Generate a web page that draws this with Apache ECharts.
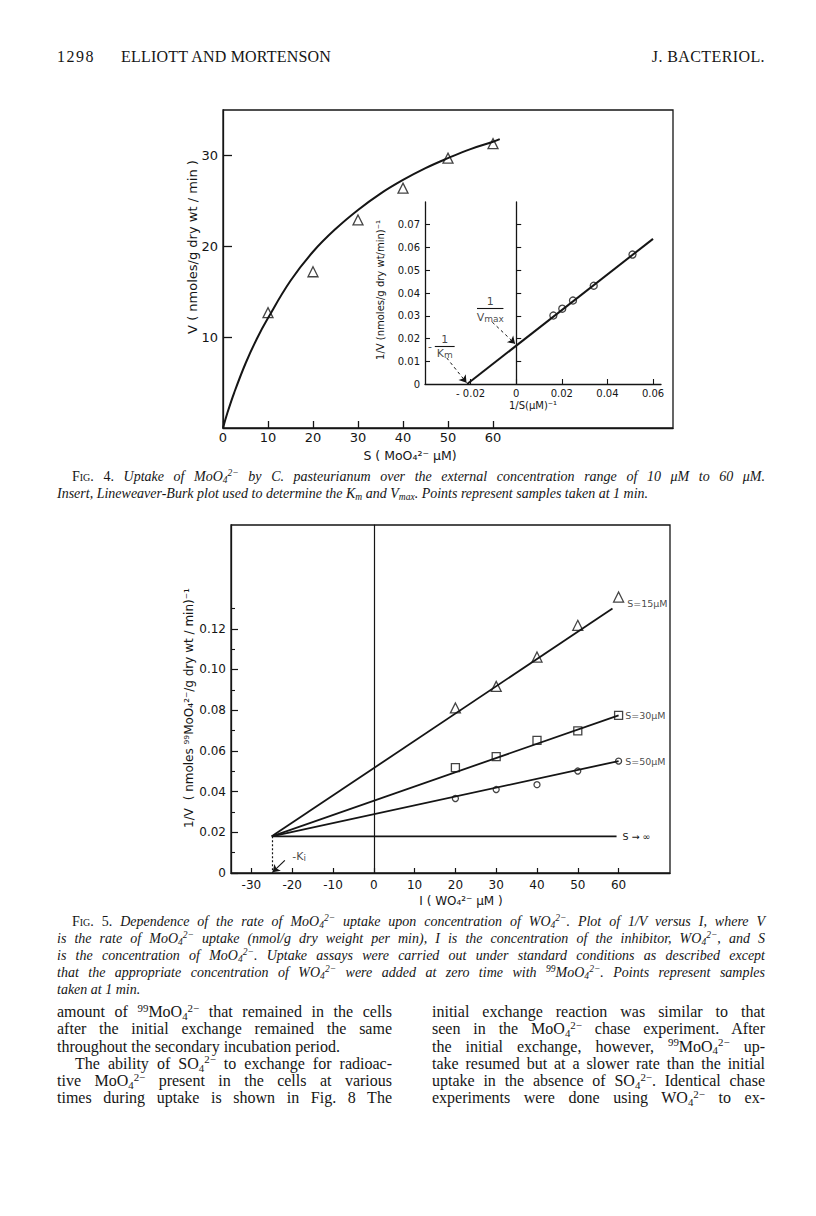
<!DOCTYPE html>
<html><head><meta charset="utf-8">
<script src="https://cdn.jsdelivr.net/npm/echarts@6/dist/echarts.min.js"></script>
<style>
html,body{margin:0;padding:0;background:#fff}
body{width:816px;height:1216px;position:relative;overflow:hidden}
#chart{position:absolute;left:0;top:0;width:816px;height:1216px}
.t{position:absolute;font-family:"Liberation Serif","DejaVu Serif",serif;color:#151515}
.ln{white-space:nowrap;text-align:justify;text-align-last:justify}
.last{text-align-last:left}
.cap{font-style:italic;font-size:14px;line-height:17px;left:57px;width:708px}
.sc{font-style:normal;font-variant:small-caps}
.body{font-size:16px;line-height:17.3px}
sup,sub{font-size:68%;line-height:0;position:relative;vertical-align:baseline}
sup{top:-0.5em}
sub{top:0.25em}
</style></head>
<body>
<div id="chart"></div>

<div class="t" style="left:57px;top:48px;font-size:16px;line-height:17px;letter-spacing:1.5px">1298</div>
<div class="t" style="left:121px;top:48px;font-size:16px;line-height:17px;letter-spacing:0.2px">ELLIOTT AND MORTENSON</div>
<div class="t" style="right:51px;top:48px;font-size:16px;line-height:17px;letter-spacing:0.4px">J. BACTERIOL.</div>

<div class="t cap" style="top:468px">
<div class="ln" style="padding-left:15px"><span class="sc">Fig. 4.</span> Uptake of MoO<sub>4</sub><sup>2−</sup> by C. pasteurianum over the external concentration range of 10 μM to 60 μM.</div>
<div class="ln last">Insert, Lineweaver-Burk plot used to determine the K<sub>m</sub> and V<sub>max</sub>. Points represent samples taken at 1 min.</div>
</div>

<div class="t cap" style="top:913px">
<div class="ln" style="padding-left:15px"><span class="sc">Fig. 5.</span> Dependence of the rate of MoO<sub>4</sub><sup>2−</sup> uptake upon concentration of WO<sub>4</sub><sup>2−</sup>. Plot of 1/V versus I, where V</div>
<div class="ln">is the rate of MoO<sub>4</sub><sup>2−</sup> uptake (nmol/g dry weight per min), I is the concentration of the inhibitor, WO<sub>4</sub><sup>2−</sup>, and S</div>
<div class="ln">is the concentration of MoO<sub>4</sub><sup>2−</sup>. Uptake assays were carried out under standard conditions as described except</div>
<div class="ln">that the appropriate concentration of WO<sub>4</sub><sup>2−</sup> were added at zero time with <sup>99</sup>MoO<sub>4</sub><sup>2−</sup>. Points represent samples</div>
<div class="ln last">taken at 1 min.</div>
</div>

<div class="t body" style="left:57px;top:1003px;width:335px">
<div class="ln">amount of <sup>99</sup>MoO<sub>4</sub><sup>2−</sup> that remained in the cells</div>
<div class="ln">after the initial exchange remained the same</div>
<div class="ln last">throughout the secondary incubation period.</div>
<div class="ln" style="padding-left:18px">The ability of SO<sub>4</sub><sup>2−</sup> to exchange for radioac-</div>
<div class="ln">tive MoO<sub>4</sub><sup>2−</sup> present in the cells at various</div>
<div class="ln">times during uptake is shown in Fig. 8 The</div>
</div>
<div class="t body" style="left:432px;top:1003px;width:333px">
<div class="ln">initial exchange reaction was similar to that</div>
<div class="ln">seen in the MoO<sub>4</sub><sup>2−</sup> chase experiment. After</div>
<div class="ln">the initial exchange, however, <sup>99</sup>MoO<sub>4</sub><sup>2−</sup> up-</div>
<div class="ln">take resumed but at a slower rate than the initial</div>
<div class="ln">uptake in the absence of SO<sub>4</sub><sup>2−</sup>. Identical chase</div>
<div class="ln">experiments were done using WO<sub>4</sub><sup>2−</sup> to ex-</div>
</div>

<script>
// ---------- Fig. 4 main: V vs S ----------
const fig4S = [10, 20, 30, 40, 50, 60];
const fig4V = [12.7, 17.2, 22.9, 26.4, 29.7, 31.3];
const fig4CurveS = [0, 1, 2.5, 5, 7.5, 10, 15, 20, 25, 30, 35, 40, 45, 50, 55, 60, 61.5];
const fig4CurveV = [0, 1.7, 3.9, 7.1, 9.8, 12.1, 16.2, 19.4, 21.9, 24.0, 25.8, 27.3, 28.6, 29.7, 30.7, 31.5, 31.8];
const fig4XTicks = [0, 10, 20, 30, 40, 50, 60];
const fig4YTicks = [10, 20, 30];

// ---------- Fig. 4 inset: Lineweaver-Burk ----------
const lbInvS = [0.0163, 0.0202, 0.0249, 0.0340, 0.0510];
const lbInvV = [0.0301, 0.0331, 0.0367, 0.0432, 0.0569];
const lbFitX = [-0.0215, 0.06];
const lbFitY = [0, 0.0638];
const insetXTicks = [-0.02, 0, 0.02, 0.04, 0.06];
const insetYTicks = [0, 0.01, 0.02, 0.03, 0.04, 0.05, 0.06, 0.07];
const insetZeroTicks = [0.01, 0.02, 0.03, 0.04, 0.05, 0.06, 0.07];

// ---------- Fig. 5: 1/V vs I ----------
const inhibI = [20, 30, 40, 50, 60];
const s15 = [0.0811, 0.0917, 0.1061, 0.1217, 0.1356];
const s30 = [0.0518, 0.0572, 0.0652, 0.0698, 0.0775];
const s50 = [0.0366, 0.0410, 0.0434, 0.0501, 0.0550];
const fitI = [-25, 58.5];
const s15Fit = [0.018, 0.130];
const s30FitI = [-25, 60];
const s30Fit = [0.018, 0.0775];
const s50Fit = [0.018, 0.0550];
const sInfI = [-25, 59.5];
const sInfFit = [0.018, 0.018];
const fig5XTicks = [-30, -20, -10, 0, 10, 20, 30, 40, 50, 60];
const fig5YTicks = [0, 0.02, 0.04, 0.06, 0.08, 0.10, 0.12];
const fig5YMinor = [0.01, 0.03, 0.05, 0.07, 0.09, 0.11, 0.13];
const seriesLabels = ['S=15μM', 'S=30μM', 'S=50μM', 'S → ∞'];

const zip = (a, b) => a.map((v, i) => [v, b[i]]);
const INK = '#151515';
const FF = '"DejaVu Sans", "Liberation Sans", sans-serif';

function valAxis(o) {
  return Object.assign({
    type: 'value',
    splitLine: { show: false },
    axisLine: { show: true, onZero: false, lineStyle: { color: INK, width: 1.3 } },
    axisTick: { show: true, inside: true, length: 6, lineStyle: { color: INK, width: 1.2 } },
    axisLabel: { color: INK, fontFamily: FF, fontSize: 12 }
  }, o);
}
const hollow = { color: '#fff', borderColor: INK, borderWidth: 1.3 };

const chart = echarts.init(document.getElementById('chart'), null, { renderer: 'svg', width: 816, height: 1216 });

const option = {
  animation: false,
  backgroundColor: '#fff',
  grid: [
    { left: 223, top: 110, width: 450, height: 318, show: true, borderColor: INK, borderWidth: 1.3, outerBoundsMode: 'none' },
    { left: 425, top: 202, width: 236, height: 182, show: false, outerBoundsMode: 'none' },
    { left: 231, top: 525, width: 439, height: 348, show: true, borderColor: INK, borderWidth: 1.3, outerBoundsMode: 'none' }
  ],
  xAxis: [
    valAxis({ gridIndex: 0, min: 0, max: 100,
      axisTick: { inside: true, length: 7, customValues: fig4XTicks, lineStyle: { color: INK, width: 1.3 } },
      axisLabel: { customValues: fig4XTicks, color: INK, fontFamily: FF, fontSize: 13, margin: 3 } }),
    valAxis({ gridIndex: 1, min: -0.04, max: 0.0635,
      axisLine: { show: true, onZero: false, lineStyle: { color: INK, width: 1.3 } },
      axisTick: { inside: true, length: 5, customValues: insetXTicks, lineStyle: { color: INK, width: 1.1 } },
      axisLabel: { customValues: insetXTicks, color: INK, fontFamily: FF, fontSize: 10, margin: 4,
        formatter: v => v === 0 ? '0' : (v < 0 ? '- ' : '') + Math.abs(v).toFixed(2) } }),
    valAxis({ gridIndex: 2, min: -35, max: 72.6,
      axisTick: { inside: true, length: 5, customValues: fig5XTicks, lineStyle: { color: INK, width: 1.2 } },
      axisLabel: { customValues: fig5XTicks, color: INK, fontFamily: FF, fontSize: 12, margin: 6 } })
  ],
  yAxis: [
    valAxis({ gridIndex: 0, min: 0, max: 35, position: 'left',
      axisTick: { inside: true, length: 9, customValues: fig4YTicks, lineStyle: { color: INK, width: 1.3 } },
      axisLabel: { customValues: fig4YTicks, color: INK, fontFamily: FF, fontSize: 13, margin: 5 } }),
    valAxis({ gridIndex: 1, min: 0, max: 0.08, position: 'left',
      axisTick: { inside: true, length: 5, customValues: insetZeroTicks, lineStyle: { color: INK, width: 1.1 } },
      axisLabel: { customValues: insetYTicks, color: INK, fontFamily: FF, fontSize: 10, margin: 5,
        formatter: v => v === 0 ? '0' : v.toFixed(2) } }),
    valAxis({ gridIndex: 1, min: 0, max: 0.08, position: 'left',
      axisLine: { show: true, onZero: true, lineStyle: { color: INK, width: 1.3 } },
      axisTick: { inside: true, length: 5, customValues: insetZeroTicks, lineStyle: { color: INK, width: 1.1 } },
      axisLabel: { show: false } }),
    valAxis({ gridIndex: 2, min: 0, max: 0.171, position: 'left',
      axisTick: { inside: true, length: 7, customValues: fig5YTicks, lineStyle: { color: INK, width: 1.2 } },
      axisLabel: { customValues: fig5YTicks, color: INK, fontFamily: FF, fontSize: 12, margin: 5,
        formatter: v => v === 0 ? '0' : v.toFixed(2) } }),
    valAxis({ gridIndex: 2, min: 0, max: 0.171, position: 'left',
      axisLine: { show: false, onZero: false },
      axisTick: { inside: true, length: 4, customValues: fig5YMinor, lineStyle: { color: INK, width: 1.1 } },
      axisLabel: { show: false } }),
    valAxis({ gridIndex: 2, min: 0, max: 0.171, position: 'left',
      axisLine: { show: true, onZero: true, lineStyle: { color: INK, width: 1.2 } },
      axisTick: { show: false }, axisLabel: { show: false } })
  ],
  graphic: [
    { type: 'text', x: 192, y: 247, rotation: Math.PI / 2,
      style: { text: 'V ( nmoles/g dry wt / min )', fill: INK, font: '13px ' + FF, align: 'center', verticalAlign: 'middle' } },
    { type: 'text', x: 410, y: 455,
      style: { text: 'S ( MoO₄²⁻ μM)', fill: INK, font: '12.5px ' + FF, align: 'center', verticalAlign: 'middle' } },
    { type: 'text', x: 380, y: 290, rotation: Math.PI / 2,
      style: { text: '1/V (nmoles/g dry wt/min)⁻¹', fill: INK, font: '10px ' + FF, align: 'center', verticalAlign: 'middle' } },
    { type: 'text', x: 533, y: 405,
      style: { text: '1/S(μM)⁻¹', fill: INK, font: '10px ' + FF, align: 'center', verticalAlign: 'middle' } },
    { type: 'text', x: 189, y: 708, rotation: Math.PI / 2,
      style: { text: '1/V  ( nmoles ⁹⁹MoO₄²⁻/g dry wt / min)⁻¹', fill: INK, font: '12px ' + FF, align: 'center', verticalAlign: 'middle' } },
    { type: 'text', x: 461, y: 901,
      style: { text: 'I ( WO₄²⁻ μM )', fill: INK, font: '12px ' + FF, align: 'center', verticalAlign: 'middle' } }
  ],
  series: [
    // Fig 4 main
    { type: 'line', xAxisIndex: 0, yAxisIndex: 0, data: zip(fig4CurveS, fig4CurveV), smooth: 0.4,
      symbol: 'none', lineStyle: { color: INK, width: 2 } },
    { type: 'scatter', xAxisIndex: 0, yAxisIndex: 0, data: zip(fig4S, fig4V), symbol: 'triangle', symbolSize: 10,
      itemStyle: hollow },
    // Inset
    { type: 'line', xAxisIndex: 1, yAxisIndex: 1, data: zip(lbFitX, lbFitY), symbol: 'none',
      lineStyle: { color: INK, width: 2 },
      markLine: { silent: true, symbol: ['none', 'arrow'], symbolSize: 7, label: { show: false },
        lineStyle: { type: [3, 3], color: INK, width: 1 },
        data: [
          [{ coord: [-0.0105, 0.0272] }, { coord: [-0.0005, 0.0177] }],
          [{ coord: [-0.0305, 0.0115] }, { coord: [-0.0218, 0.0006] }]
        ] } },
    { type: 'scatter', xAxisIndex: 1, yAxisIndex: 1, data: zip(lbInvS, lbInvV), symbol: 'circle', symbolSize: 7,
      itemStyle: hollow },
    { type: 'scatter', xAxisIndex: 1, yAxisIndex: 1, symbolSize: 0, silent: true,
      label: { show: true, position: 'inside', color: INK, fontFamily: FF, fontSize: 11,
        rich: { v: { fontSize: 11, fontFamily: FF, color: INK }, s: { fontSize: 9, fontFamily: FF, color: INK, padding: [3, 0, 0, 0] } } },
      data: [
        { value: [-0.0114, 0.0364], label: { formatter: '1' } },
        { value: [-0.0114, 0.0294], label: { formatter: '{v|V}{s|max}' } },
        { value: [-0.0378, 0.0167], label: { formatter: '-' } },
        { value: [-0.0313, 0.0197], label: { formatter: '1' } },
        { value: [-0.0313, 0.0136], label: { formatter: '{v|K}{s|m}' } }
      ],
      markLine: { silent: true, symbol: 'none', label: { show: false },
        lineStyle: { type: 'solid', color: INK, width: 1.1 },
        data: [
          [{ coord: [-0.0172, 0.0333] }, { coord: [-0.0056, 0.0333] }],
          [{ coord: [-0.0357, 0.0168] }, { coord: [-0.0270, 0.0168] }]
        ] } },
    // Fig 5 lines
    { type: 'line', xAxisIndex: 2, yAxisIndex: 3, data: zip(fitI, s15Fit), symbol: 'none', lineStyle: { color: INK, width: 1.8 } },
    { type: 'line', xAxisIndex: 2, yAxisIndex: 3, data: zip(s30FitI, s30Fit), symbol: 'none', lineStyle: { color: INK, width: 1.8 } },
    { type: 'line', xAxisIndex: 2, yAxisIndex: 3, data: zip(s30FitI, s50Fit), symbol: 'none', lineStyle: { color: INK, width: 1.8 } },
    { type: 'line', xAxisIndex: 2, yAxisIndex: 3, data: zip(sInfI, sInfFit), symbol: 'none', lineStyle: { color: INK, width: 1.8 },
      endLabel: { show: true, formatter: seriesLabels[3], color: INK, fontFamily: FF, fontSize: 9.5, distance: 6 },
      markLine: { silent: true, symbol: 'none', label: { show: false },
        lineStyle: { type: [2, 2], color: INK, width: 1.2 },
        data: [[{ coord: [-25, 0.018] }, { coord: [-25, 0] }]] } },
    // Fig 5 markers
    { type: 'scatter', xAxisIndex: 2, yAxisIndex: 3, symbol: 'triangle', symbolSize: 10, itemStyle: hollow,
      data: zip(inhibI, s15).map((p, i, a) => i === a.length - 1 ? { value: p, label: { show: true, formatter: seriesLabels[0], position: 'right', distance: 3, offset: [0, 6], color: INK, fontFamily: FF, fontSize: 9.5 } } : p) },
    { type: 'scatter', xAxisIndex: 2, yAxisIndex: 3, symbol: 'rect', symbolSize: 8, itemStyle: hollow,
      data: zip(inhibI, s30).map((p, i, a) => i === a.length - 1 ? { value: p, label: { show: true, formatter: seriesLabels[1], position: 'right', distance: 2, color: INK, fontFamily: FF, fontSize: 9.5 } } : p) },
    { type: 'scatter', xAxisIndex: 2, yAxisIndex: 3, symbol: 'circle', symbolSize: 6, itemStyle: hollow,
      data: zip(inhibI, s50).map((p, i, a) => i === a.length - 1 ? { value: p, label: { show: true, formatter: seriesLabels[2], position: 'right', distance: 3, color: INK, fontFamily: FF, fontSize: 9.5 } } : p) },
    // -Ki annotation
    { type: 'scatter', xAxisIndex: 2, yAxisIndex: 3, symbolSize: 0, silent: true,
      label: { show: true, position: 'inside', color: INK, fontFamily: FF,
        rich: { v: { fontSize: 11, fontFamily: FF, color: INK }, s: { fontSize: 9, fontFamily: FF, color: INK, padding: [4, 0, 0, 0] } } },
      data: [{ value: [-18.3, 0.0082], label: { formatter: '{v|-K}{s|i}' } }],
      markLine: { silent: true, symbol: ['none', 'arrow'], symbolSize: 7, label: { show: false },
        lineStyle: { type: 'solid', color: INK, width: 1.2 },
        data: [[{ coord: [-21.8, 0.0062] }, { coord: [-24.8, 0.0004] }]] } }
  ]
};
chart.setOption(option);
</script>
</body></html>
